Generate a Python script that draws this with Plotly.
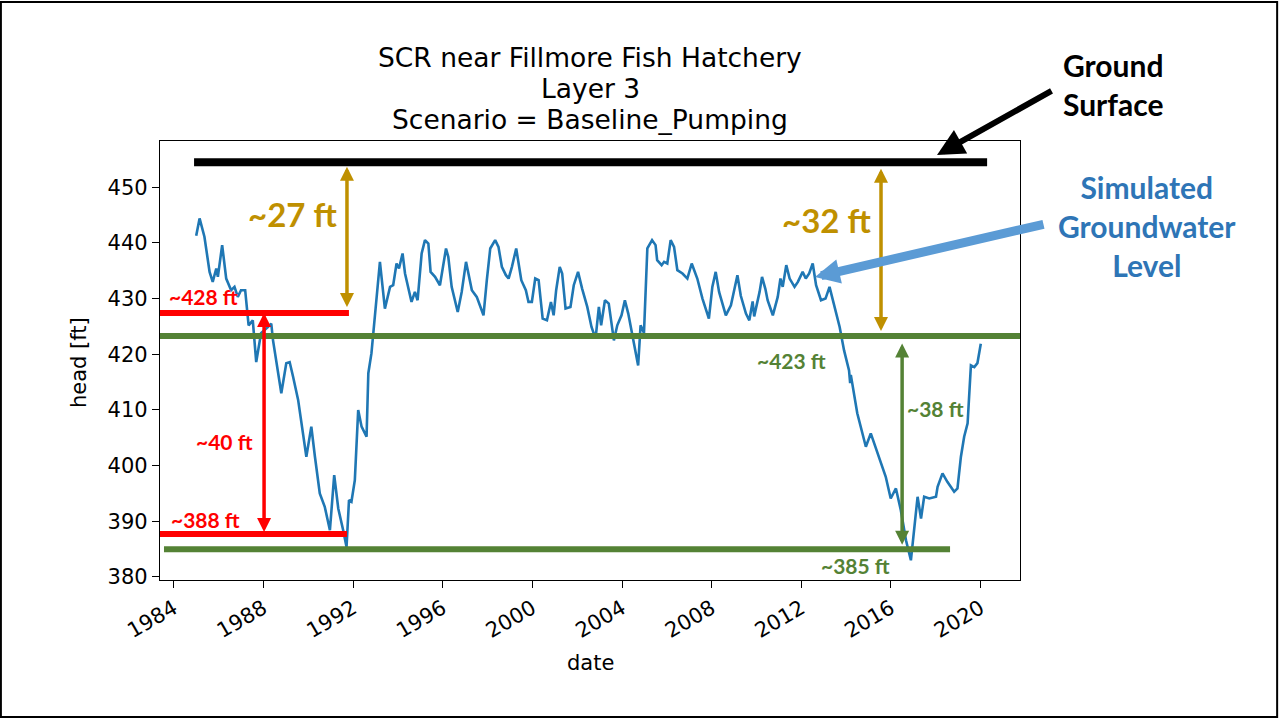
import plotly.graph_objects as go

# ---------------- data ----------------
dates = [
    "1985-01-01", "1985-02-25", "1985-05-15", "1985-08-07", "1985-09-27", "1985-11-24", "1985-12-20",
    "1986-02-28", "1986-05-05", "1986-07-24", "1986-09-17", "1986-11-10",
    "1987-01-01", "1987-03-10", "1987-05-05", "1987-07-12", "1987-09-06", "1987-11-24",
    "1988-03-14", "1988-05-08", "1988-06-06", "1988-10-19",
    "1989-01-08", "1989-03-04", "1989-04-28", "1989-07-20", "1989-12-01",
    "1990-02-20", "1990-04-20", "1990-07-08", "1990-09-27", "1990-12-20",
    "1991-02-28", "1991-05-05", "1991-07-24", "1991-09-17", "1991-10-27", "1991-12-06",
    "1992-01-30", "1992-03-25", "1992-05-19", "1992-08-08", "1992-09-06", "1992-10-27",
    "1993-03-14", "1993-06-03", "1993-08-26", "1993-10-16", "1993-12-10",
    "1994-01-19", "1994-03-18", "1994-04-27", "1994-08-11", "1994-10-05", "1994-11-18",
    "1995-01-23", "1995-03-18", "1995-05-12", "1995-06-18", "1995-08-29", "1995-11-17",
    "1996-01-01", "1996-02-24", "1996-04-01", "1996-05-26", "1996-09-02", "1996-11-06",
    "1997-01-15", "1997-04-20", "1997-07-09", "1997-10-27", "1997-12-20",
    "1998-02-14", "1998-05-05", "1998-06-28", "1998-08-22", "1998-10-27", "1998-12-10",
    "1999-02-02", "1999-04-13", "1999-07-05", "1999-09-17", "1999-10-30", "1999-12-24",
    "2000-02-17", "2000-04-12", "2000-06-17", "2000-08-26", "2000-10-30", "2000-12-13",
    "2001-01-23", "2001-03-22", "2001-05-01", "2001-06-25", "2001-09-13", "2001-11-06",
    "2002-01-15", "2002-03-22", "2002-06-14", "2002-08-22", "2002-10-27", "2002-12-20",
    "2003-01-26", "2003-03-29", "2003-05-30", "2003-08-22", "2003-10-16", "2003-12-24",
    "2004-02-17", "2004-04-12", "2004-09-20", "2004-10-30", "2004-12-24",
    "2005-02-17", "2005-05-05", "2005-07-01", "2005-07-27", "2005-10-08", "2005-11-17",
    "2006-01-08", "2006-03-04", "2006-04-28", "2006-06-21", "2006-09-13", "2006-12-01",
    "2007-02-10", "2007-05-12", "2007-08-04", "2007-11-17",
    "2008-01-12", "2008-03-07", "2008-05-01", "2008-08-19", "2008-11-10",
    "2009-01-01", "2009-02-24", "2009-04-20", "2009-07-13", "2009-09-06", "2009-10-30", "2009-11-24",
    "2010-02-20", "2010-04-01", "2010-05-26", "2010-07-01", "2010-09-24", "2010-12-13",
    "2011-01-26", "2011-03-04", "2011-05-01", "2011-06-25", "2011-09-13", "2011-11-06",
    "2012-01-23", "2012-03-14", "2012-05-08", "2012-07-05", "2012-08-29", "2012-11-17",
    "2013-01-30", "2013-04-05", "2013-06-25", "2013-09-17", "2013-11-28",
    "2014-02-17", "2014-03-07", "2014-03-18", "2014-07-01", "2014-11-18",
    "2015-02-06", "2015-06-21", "2015-10-08", "2015-12-28",
    "2016-03-22", "2016-06-10", "2016-09-02", "2016-11-21",
    "2017-01-15", "2017-03-10", "2017-05-05", "2017-06-25", "2017-09-17",
    "2018-01-04", "2018-01-30", "2018-04-20", "2018-07-08", "2018-10-27", "2018-12-20",
    "2019-02-14", "2019-04-08", "2019-06-03", "2019-07-27", "2019-09-20", "2019-11-10",
    "2020-01-04",
]
head_ft = [
    441.3, 444.4, 441.1, 434.8, 433.0, 435.4, 433.9,
    439.6, 433.6, 431.5, 432.1, 430.3,
    431.5, 431.5, 425.2, 426.1, 418.6, 423.8,
    424.9, 425.5, 422.5, 413.0,
    418.4, 418.6, 416.0, 411.8, 401.6,
    407.0, 401.6, 395.0, 392.6, 388.4,
    398.3, 392.3, 388.4, 385.4, 393.8, 393.5,
    397.4, 410.0, 407.0, 405.2, 416.6, 420.2,
    436.6, 428.2, 432.1, 432.4, 436.3,
    435.4, 438.1, 434.5, 429.4, 431.2, 429.7,
    438.1, 440.5, 439.9, 434.8, 433.9, 432.4,
    435.1, 439.0, 437.5, 432.1, 427.6, 431.2,
    436.6, 431.5, 430.3, 427.0, 433.3,
    439.0, 440.5, 439.3, 435.7, 434.2, 433.6,
    435.7, 439.0, 433.3, 431.5, 429.4, 429.4,
    433.6, 433.3, 426.4, 426.1, 429.4, 427.0,
    431.5, 435.7, 434.5, 428.2, 428.5, 432.4,
    434.8, 431.8, 428.5, 424.9, 422.8, 428.5,
    425.2, 429.7, 429.1, 422.5, 425.2, 427.0,
    429.7, 427.3, 418.0, 425.2, 423.8,
    439.0, 440.5, 439.6, 436.9, 436.0, 436.6,
    436.3, 440.5, 439.3, 435.1, 434.5, 433.6,
    436.3, 433.6, 430.0, 426.4,
    432.1, 434.8, 431.2, 427.0, 428.8,
    431.2, 434.2, 430.5, 427.3, 426.1, 429.5, 426.8,
    431.2, 433.9, 431.7, 429.7, 427.0, 430.3,
    433.6, 432.1, 436.0, 433.6, 432.1, 433.0,
    434.8, 433.6, 434.5, 436.3, 432.4, 429.7,
    430.0, 432.1, 428.8, 424.9, 420.7,
    417.1, 414.8, 416.3, 409.4, 403.4,
    405.8, 401.3, 398.0, 394.1,
    395.9, 392.0, 386.6, 383.0,
    388.4, 394.4, 390.5, 394.4, 394.1,
    394.4, 396.2, 398.6, 397.1, 395.3, 395.9,
    401.6, 405.2, 407.6, 418.0, 417.7, 418.4,
    421.9,
]

tick_years = [1984, 1988, 1992, 1996, 2000, 2004, 2008, 2012, 2016, 2020]
y_ticks = [380, 390, 400, 410, 420, 430, 440, 450]

# annotation levels (ft)
ground_surface = 454.5
red_high, red_low = 427.4, 387.7
green_high, green_low = 423.3, 385.0

GOLD = "#BF9000"
RED = "#FF0000"
GREEN = "#548235"
BLUE_TXT = "#2E75B6"
BLUE_ARROW = "#5B9BD5"
LBL_FONT = "Lato"

fig = go.Figure()
fig.add_trace(go.Scatter(x=dates, y=head_ft, mode="lines",
                         line=dict(color="#1f77b4", width=2.6), showlegend=False))

axis_common = dict(showline=True, linecolor="black", linewidth=1.2, mirror=True,
                   ticks="outside", ticklen=7, tickwidth=1.2, tickcolor="black",
                   showgrid=False, zeroline=False,
                   tickfont=dict(family="DejaVu Sans", size=21, color="black"))

fig.update_layout(
    width=1279, height=719,
    margin=dict(l=160, r=259, t=141, b=139),
    paper_bgcolor="white", plot_bgcolor="white",
    xaxis=dict(range=["1983-05-22", "2021-10-04"],
               tickvals=[f"{y}-01-01" for y in tick_years],
               ticktext=[str(y) for y in tick_years],
               tickangle=-30, **axis_common),
    yaxis=dict(range=[379.46, 458.3], tickvals=y_ticks,
               ticktext=[str(v) for v in y_ticks], **axis_common),
)

# title lines and axis titles
title_lines = ["SCR near Fillmore Fish Hatchery", "Layer 3", "Scenario = Baseline_Pumping"]
for txt, yp in zip(title_lines, [1.1913, 1.1207, 1.0501]):
    fig.add_annotation(text=txt, x=0.5, y=yp, xref="paper", yref="paper", showarrow=False,
                       xanchor="center", yanchor="middle",
                       font=dict(family="DejaVu Sans", size=26.5, color="black"))
fig.add_annotation(text="head [ft]", x=-0.0942, y=0.4966, xref="paper", yref="paper",
                   showarrow=False, textangle=-90, xanchor="center", yanchor="middle",
                   font=dict(family="DejaVu Sans", size=21, color="black"))
fig.add_annotation(text="date", x=0.5, y=-0.189, xref="paper", yref="paper",
                   showarrow=False, xanchor="center", yanchor="middle",
                   font=dict(family="DejaVu Sans", size=21, color="black"))

# horizontal reference lines
fig.add_shape(type="line", xref="x", yref="y", x0="1984-11-27", x1="2020-04-16",
              y0=ground_surface, y1=ground_surface, line=dict(color="black", width=8))
fig.add_shape(type="line", xref="x", yref="y", x0="1983-05-22", x1="1991-10-26",
              y0=red_high, y1=red_high, line=dict(color=RED, width=6))
fig.add_shape(type="line", xref="x", yref="y", x0="1983-05-22", x1="1991-09-24",
              y0=red_low, y1=red_low, line=dict(color=RED, width=6))
fig.add_shape(type="line", xref="paper", yref="y", x0=0.0, x1=1.0,
              y0=green_high, y1=green_high, line=dict(color=GREEN, width=6))
fig.add_shape(type="line", xref="x", yref="y", x0="1983-07-26", x1="2018-08-21",
              y0=green_low, y1=green_low, line=dict(color=GREEN, width=6))


def double_arrow(xd, y_top, y_bot, color, width=3.5, size=0.8):
    fig.add_annotation(x=xd, y=y_bot, ax=xd, ay=y_top, xref="x", yref="y",
                       axref="x", ayref="y", text="", showarrow=True,
                       arrowhead=2, arrowside="end+start", arrowsize=size,
                       arrowwidth=width, arrowcolor=color, standoff=0, startstandoff=0)


double_arrow("1991-09-24", 453.95, 428.5, GOLD)
double_arrow("2015-07-23", 453.6, 424.2, GOLD)
double_arrow("1988-01-12", 427.7, 388.1, RED)
double_arrow("2016-07-01", 422.2, 385.8, GREEN)


def label(txt, xd, yd, color, size):
    fig.add_annotation(text=f"<b>{txt}</b>", x=xd, y=yd, xref="x", yref="y", showarrow=False,
                       xanchor="center", yanchor="middle",
                       font=dict(family=LBL_FONT, size=size, color=color))


label("~27 ft", "1989-04-12", 445.2, GOLD, 33)
label("~32 ft", "2013-02-10", 444.1, GOLD, 33)
label("~428 ft", "1985-04-22", 430.3, RED, 21)
label("~388 ft", "1985-05-26", 390.4, RED, 21)
label("~40 ft", "1986-04-15", 404.4, RED, 21)
label("~423 ft", "2011-07-20", 418.9, GREEN, 21)
label("~385 ft", "2014-05-26", 382.1, GREEN, 21)
label("~38 ft", "2017-12-20", 410.3, GREEN, 21)

# callouts outside the axes
fig.add_annotation(text="<b>Ground<br>Surface</b>", x=1.0477, y=1.1276, xref="paper", yref="paper",
                   showarrow=False, xanchor="left", yanchor="middle", align="left",
                   font=dict(family=LBL_FONT, size=30, color="black"))
fig.add_annotation(text="", x=0.9035, y=0.9681, xref="paper", yref="paper",
                   ax=116, ay=-65, showarrow=True, arrowhead=2, arrowsize=0.9,
                   arrowwidth=6, arrowcolor="black", standoff=0)
fig.add_annotation(text="<b>Simulated<br>Groundwater<br>Level</b>", x=1.1477, y=0.8064,
                   xref="paper", yref="paper", showarrow=False, xanchor="center",
                   yanchor="middle", align="center",
                   font=dict(family=LBL_FONT, size=30, color=BLUE_TXT))
fig.add_annotation(text="", x=0.7616, y=0.6902, xref="paper", yref="paper",
                   ax=230, ay=-53, showarrow=True, arrowhead=2, arrowsize=0.55,
                   arrowwidth=9, arrowcolor=BLUE_ARROW, standoff=0)

# slide border
fig.add_shape(type="rect", xref="paper", yref="paper", x0=-0.185, x1=1.299, y0=-0.3121, y1=1.3166,
              line=dict(color="black", width=2), fillcolor="rgba(0,0,0,0)")

fig.write_html("out.html", config={"displayModeBar": False},
               post_script="document.body.style.margin='0px';")
